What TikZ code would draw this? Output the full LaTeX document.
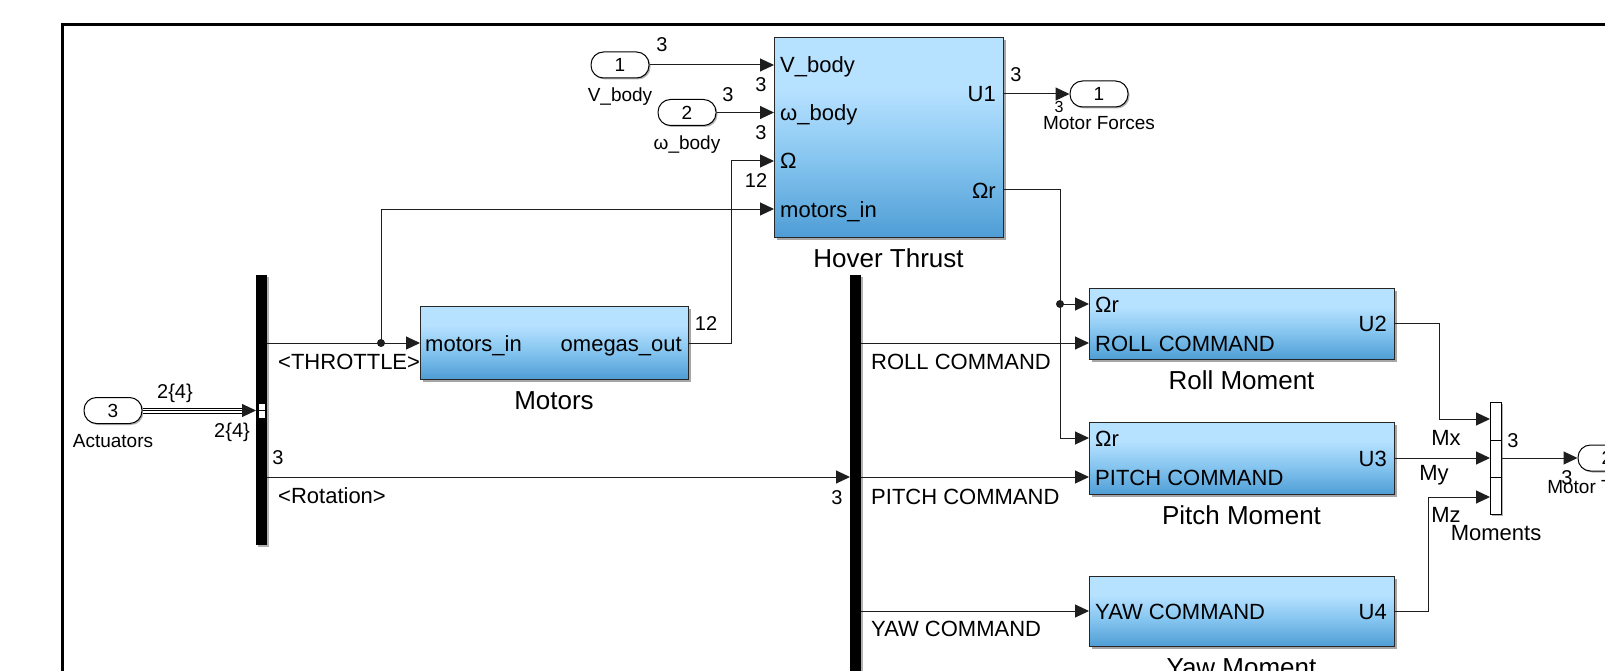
\documentclass[tikz,border=0pt]{standalone}
\usepackage{fontspec}
\setmainfont{Liberation Sans}
\usetikzlibrary{arrows.meta,shadows}
\definecolor{blkTop}{RGB}{182,225,255}
\definecolor{blkMid}{RGB}{135,198,240}
\definecolor{blkBot}{RGB}{78,157,213}
\definecolor{wire}{RGB}{30,30,30}
\pgfdeclareverticalshading{slblk}{100bp}{color(0bp)=(blkBot); color(25bp)=(blkBot); color(45bp)=(blkMid); color(62bp)=(blkTop); color(100bp)=(blkTop)}
\newcommand{\sfz}[1]{\fontsize{#1}{#1}\selectfont}
\tikzset{
  blk/.style={draw=black!85, line width=1.2pt, shading=slblk, inner sep=0, anchor=north west,
    drop shadow={shadow xshift=2.5pt, shadow yshift=-2.5pt, opacity=0.35, fill=black}},
  busbar/.style={fill=black, inner sep=0, anchor=north west,
    drop shadow={shadow xshift=2pt, shadow yshift=-2pt, opacity=0.3, fill=black}},
  portov/.style={draw=black, line width=1pt, fill=white, rounded corners=12.5pt, minimum width=58pt,
    minimum height=26pt, inner sep=0, font=\sfz{19},
    drop shadow={shadow xshift=1.5pt, shadow yshift=-1.5pt, opacity=0.3, fill=black}},
  sig/.style={draw=wire, line width=1pt, -{Triangle[length=14pt,width=13pt]}},
  plab/.style={font=\sfz{22}, inner sep=0},
  small/.style={font=\sfz{20}, inner sep=0},
  nlab/.style={font=\sfz{19}, inner sep=0},
  tiny/.style={font=\sfz{16}, inner sep=0},
  bname/.style={font=\sfz{26}, inner sep=0},
}
\begin{document}
\begin{tikzpicture}[x=1pt,y=-1pt]
\useasboundingbox (0,0) rectangle (1605,671);
\clip (0,0) rectangle (1605,671);
\fill[white] (0,0) rectangle (1605,671);
% frame
\draw[line width=3pt, black] (62.5,700) -- (62.5,24.5) -- (1620,24.5);

% blocks
\node[blk, minimum width=229pt, minimum height=200pt] (hover) at (774,37) {};
\node[blk, minimum width=268pt, minimum height=73pt] (motors) at (420,306) {};
\node[blk, minimum width=305pt, minimum height=71pt] (roll) at (1089,288) {};
\node[blk, minimum width=305pt, minimum height=72pt] (pitch) at (1089,422) {};
\node[blk, minimum width=305pt, minimum height=70pt] (yaw) at (1089,576) {};

% bus bars
\node[busbar, minimum width=11pt, minimum height=270pt] (bus1) at (256,275) {};
\node[busbar, minimum width=11pt, minimum height=430pt] (bus2) at (850,275) {};
\draw[fill=white, line width=0.6pt] (258,403) rectangle (265,418);
\draw[line width=0.6pt] (258,410.5) -- (265,410.5);

% mux
\node[draw=black, fill=white, line width=1pt, minimum width=11pt, minimum height=112pt, inner sep=0, anchor=north west,
  drop shadow={shadow xshift=1.5pt, shadow yshift=-1.5pt, opacity=0.3, fill=black}] (mux) at (1490,402) {};
\draw[line width=0.8pt] (1490,440) -- (1501,440);
\draw[line width=0.8pt] (1490,477) -- (1501,477);

% ports
\node[portov] (in1) at (620,65) {1};
\node[portov] (in2) at (687,112.5) {2};
\node[portov] (out1) at (1099,94) {1};
\node[portov] (act) at (113,410.5) {3};
\node[portov] (out2) at (1607,458) {2};

% port coordinates
\coordinate (hVb) at (774,65);
\coordinate (hWb) at (774,112.5);
\coordinate (hOm) at (774,161);
\coordinate (hMi) at (774,209);
\coordinate (hU1) at (1003,94);
\coordinate (hOr) at (1003,190);
\coordinate (mIn) at (420,343);
\coordinate (mOut) at (688,343);
\coordinate (b1th) at (267,343);
\coordinate (b1rot) at (267,477);
\coordinate (b1in) at (256,410.5);
\coordinate (b2in) at (850,477);
\coordinate (b2r) at (861,343);
\coordinate (b2p) at (861,477);
\coordinate (b2y) at (861,611);
\coordinate (rOr) at (1089,304);
\coordinate (rCmd) at (1089,343);
\coordinate (rU2) at (1394,323);
\coordinate (pOr) at (1089,438);
\coordinate (pCmd) at (1089,477);
\coordinate (pU3) at (1394,458);
\coordinate (yCmd) at (1089,611);
\coordinate (yU4) at (1394,611);
\coordinate (mx1) at (1490,419);
\coordinate (mx2) at (1490,458);
\coordinate (mx3) at (1490,497);
\coordinate (mxo) at (1501,458);
\coordinate (jt) at (381,343);
\coordinate (jr) at (1060,304);

% connectors
\draw[sig] (in1.east) -- (hVb);
\draw[sig] (in2.east) -- (hWb);
\draw[sig] (hU1) -- (out1.west);
\draw[sig] (mOut) -- (731,343) -- (731,161) -- (hOm);
\draw[sig] (b1th) -- (mIn);
\draw[sig] (jt) -- (381,209) -- (hMi);
\fill[wire] (jt) circle (4pt);
\draw[sig] (b1rot) -- (b2in);
\draw[sig] (hOr) -- (1060,190) -- (1060,438) -- (pOr);
\draw[sig] (jr) -- (rOr);
\fill[wire] (jr) circle (4pt);
\draw[sig] (b2r) -- (rCmd);
\draw[sig] (b2p) -- (pCmd);
\draw[sig] (b2y) -- (yCmd);
\draw[sig] (rU2) -- (1439,323) -- (1439,419) -- (mx1);
\draw[sig] (pU3) -- (mx2);
\draw[sig] (yU4) -- (1428,611) -- (1428,497) -- (mx3);
\draw[sig] (mxo) -- (out2.west);
% bus signal (triple line)
\draw[line width=6pt, black] (act.east) -- (243,410.5);
\draw[line width=4pt, white] (act.east) -- (243,410.5);
\draw[line width=1pt, black] (act.east) -- (243,410.5);
\draw[sig] (241,410.5) -- (b1in);

% hover labels
\node[plab, anchor=base west] at (780,73) {V\_body};
\node[plab, anchor=base west] at (780,120.5) {ω\_body};
\node[plab, anchor=base west] at (780,169) {Ω};
\node[plab, anchor=base west] at (780,217) {motors\_in};
\node[plab, anchor=base east] at (996,102) {U1};
\node[plab, anchor=base east] at (996,198) {Ωr};
\node[bname, anchor=base] at (888.5,267) {Hover Thrust};
% motors labels
\node[plab, anchor=base west] at (425,351) {motors\_in};
\node[plab, anchor=base east] at (682,351) {omegas\_out};
\node[bname, anchor=base] at (554,409) {Motors};
% roll labels
\node[plab, anchor=base west] at (1095,312) {Ωr};
\node[plab, anchor=base west] at (1095,351) {ROLL COMMAND};
\node[plab, anchor=base east] at (1387,331) {U2};
\node[bname, anchor=base] at (1241.5,389) {Roll Moment};
% pitch labels
\node[plab, anchor=base west] at (1095,446) {Ωr};
\node[plab, anchor=base west] at (1095,485) {PITCH COMMAND};
\node[plab, anchor=base east] at (1387,466) {U3};
\node[bname, anchor=base] at (1241.5,524) {Pitch Moment};
% yaw labels
\node[plab, anchor=base west] at (1095,619) {YAW COMMAND};
\node[plab, anchor=base east] at (1387,619) {U4};
\node[bname, anchor=base] at (1241.5,676) {Yaw Moment};

% signal labels
\node[plab, anchor=base west] at (278,369) {<THROTTLE>};
\node[plab, anchor=base west] at (278,503) {<Rotation>};
\node[plab, anchor=base west] at (871,369) {ROLL COMMAND};
\node[plab, anchor=base west] at (871,504) {PITCH COMMAND};
\node[plab, anchor=base west] at (871,636) {YAW COMMAND};
\node[plab, anchor=base] at (1446,445) {Mx};
\node[plab, anchor=base] at (1434,480) {My};
\node[plab, anchor=base] at (1446,522) {Mz};
\node[plab, anchor=base] at (1496,540) {Moments};

% dimension labels
\node[small, anchor=base] at (662,52) {3};
\node[small, anchor=base] at (728,102) {3};
\node[small, anchor=base] at (761,92) {3};
\node[small, anchor=base] at (761,140) {3};
\node[small, anchor=base] at (756,188) {12};
\node[small, anchor=base] at (1016,82) {3};
\node[tiny, anchor=base] at (1059,113) {3};
\node[small, anchor=base] at (706,330) {12};
\node[small, anchor=base] at (278,464) {3};
\node[small, anchor=base] at (837,504) {3};
\node[small, anchor=base] at (1513,447) {3};
\node[small, anchor=base] at (1567,484) {3};
\node[small, anchor=base] at (175,398) {2\{4\}};
\node[small, anchor=base] at (232,437) {2\{4\}};

% port names
\node[nlab, anchor=base] at (620,102) {V\_body};
\node[nlab, anchor=base] at (687,150) {ω\_body};
\node[nlab, anchor=base] at (1099,130) {Motor Forces};
\node[nlab, anchor=base] at (113,447) {Actuators};
\node[nlab, anchor=base] at (1608,493) {Motor Torques};
\end{tikzpicture}
\end{document}
